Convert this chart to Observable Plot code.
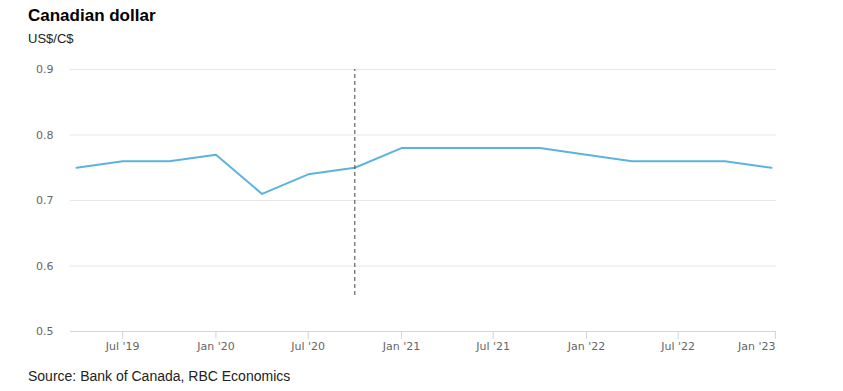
<!DOCTYPE html>
<html>
<head>
<meta charset="utf-8">
<script src="https://cdn.jsdelivr.net/npm/d3@7"></script>
<script src="https://cdn.jsdelivr.net/npm/@observablehq/plot@0.6"></script>
<style>
  html, body { margin: 0; padding: 0; background: #fff; width: 843px; height: 391px; overflow: hidden; }
  .t { position: absolute; left: 28px; white-space: nowrap; font-family: "Liberation Sans", Arial, sans-serif; }
  #title { top: 6px; font-size: 17px; line-height: 20px; font-weight: bold; color: #000; }
  #subtitle { top: 30.5px; font-size: 13px; line-height: 16px; color: #222; }
  #source { top: 367.5px; font-size: 14px; line-height: 17px; color: #222; }
  #chart { position: absolute; left: 0; top: 52px; }
</style>
</head>
<body>
<div class="t" id="title">Canadian dollar</div>
<div class="t" id="subtitle">US$/C$</div>
<div id="chart"></div>
<div class="t" id="source">Source: Bank of Canada, RBC Economics</div>
<script>
const dates = ["2019-04-01","2019-07-01","2019-10-01","2020-01-01","2020-04-01","2020-07-01","2020-10-01","2021-01-01","2021-04-01","2021-07-01","2021-10-01","2022-01-01","2022-04-01","2022-07-01","2022-10-01","2023-01-01"];
const values = [0.75,0.76,0.76,0.77,0.71,0.74,0.75,0.78,0.78,0.78,0.78,0.77,0.76,0.76,0.76,0.75];
const xTickDates = ["2019-07-01","2020-01-01","2020-07-01","2021-01-01","2021-07-01","2022-01-01","2022-07-01","2023-01-01"];
const yTicks = [0.5,0.6,0.7,0.8,0.9];
const forecastStart = "2020-10-01";
const forecastLineRange = [0.555, 0.9];
const xDomain = ["2019-03-20","2023-01-11"];

const data = dates.map((d, i) => ({date: new Date(d), value: values[i]}));
const xt = xTickDates.map(d => new Date(d));
const fmt = d3.utcFormat("%b '%y");

const plot = Plot.plot({
  width: 843,
  height: 305,
  marginLeft: 70,
  marginRight: 67,
  marginTop: 17,
  marginBottom: 26,
  style: {fontFamily: "'DejaVu Sans', Verdana, sans-serif", fontSize: "11px", background: "#fff"},
  x: {type: "utc", domain: xDomain.map(d => new Date(d))},
  y: {domain: [yTicks[0], yTicks[yTicks.length - 1]]},
  marks: [
    Plot.gridY(yTicks.slice(1), {stroke: "#e6e6e6", strokeOpacity: 1}),
    Plot.ruleY([yTicks[0]], {stroke: "#ccd6eb"}),
    Plot.axisY(yTicks, {tickSize: 0, tickPadding: 17, tickFormat: d3.format(".1f"), fill: "#666", label: null}),
    Plot.axisX(xt.slice(0, -1), {tickSize: 8, tickPadding: 3, stroke: "#ccd6eb", fill: "#666", tickFormat: fmt, label: null}),
    Plot.axisX(xt.slice(-1), {tickSize: 8, tickPadding: 3, stroke: "#ccd6eb", fill: "#666", tickFormat: fmt, textAnchor: "end", dx: 4, label: null}),
    Plot.line(data, {x: "date", y: "value", stroke: "#5bb3de", strokeWidth: 2}),
    Plot.ruleX([new Date(forecastStart)], {y1: forecastLineRange[0], y2: forecastLineRange[1], stroke: "#444", strokeDasharray: "4,3", strokeWidth: 1})
  ]
});
document.getElementById("chart").appendChild(plot);
</script>
</body>
</html>
